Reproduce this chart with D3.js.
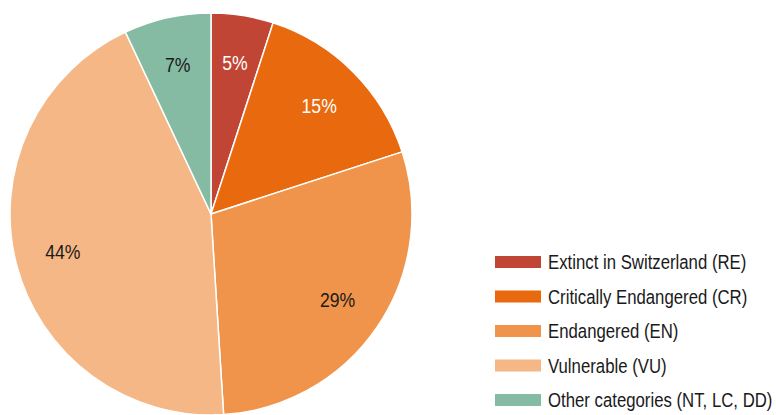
<!DOCTYPE html>
<html>
<head>
<meta charset="utf-8">
<script src="https://cdn.jsdelivr.net/npm/d3@7"></script>
<style>
  html, body { margin: 0; padding: 0; background: #fff; }
  svg { display: block; }
  text { font-family: "Liberation Sans", Arial, sans-serif; }
</style>
</head>
<body>
<svg id="chart" width="776" height="415"></svg>
<script>
// Red List status shares (percent)
const categories = [
  "Extinct in Switzerland (RE)",
  "Critically Endangered (CR)",
  "Endangered (EN)",
  "Vulnerable (VU)",
  "Other categories (NT, LC, DD)"
];
const values = [5, 15, 29, 44, 7];
const colors = ["#c14535", "#e9690e", "#ef944a", "#f5b785", "#84bba2"];
const labelColors = ["#ffffff", "#ffffff", "#1a1a1a", "#1a1a1a", "#1a1a1a"];

const svg = d3.select("#chart");
const cx = 211, cy = 214, R = 201;
const squeeze = 0.86; // horizontal compression for a condensed look

const pie = d3.pie().sort(null).value(d => d.value);
const data = categories.map((c, i) => ({ name: c, value: values[i], i }));
const arcs = pie(data);

const arc = d3.arc().innerRadius(0).outerRadius(R);
const labelArc = d3.arc().innerRadius(153).outerRadius(153);

const g = svg.append("g").attr("transform", `translate(${cx},${cy})`);

g.selectAll("path.slice")
  .data(arcs)
  .enter().append("path")
  .attr("class", "slice")
  .attr("d", arc)
  .attr("fill", d => colors[d.data.i])
  .attr("stroke", "#ffffff")
  .attr("stroke-width", 1.5);

g.selectAll("text.pct")
  .data(arcs)
  .enter().append("text")
  .attr("class", "pct")
  .attr("transform", d => `translate(${labelArc.centroid(d)}) scale(${squeeze},1)`)
  .attr("text-anchor", "middle")
  .attr("dominant-baseline", "central")
  .attr("font-size", 20.5)
  .attr("fill", d => labelColors[d.data.i])
  .text(d => d.data.value + "%");

// Legend
const legend = svg.append("g").attr("transform", "translate(495,262)");
const rowH = 34.5;
const rows = legend.selectAll("g.row")
  .data(data)
  .enter().append("g")
  .attr("class", "row")
  .attr("transform", (d, i) => `translate(0,${i * rowH})`);

rows.append("rect")
  .attr("x", 0).attr("y", -6)
  .attr("width", 46).attr("height", 12)
  .attr("fill", d => colors[d.i]);

rows.append("text")
  .attr("transform", `translate(53,1) scale(${squeeze},1)`)
  .attr("dominant-baseline", "central")
  .attr("font-size", 19.5)
  .attr("fill", "#1a1a1a")
  .text(d => d.name);
</script>
</body>
</html>
